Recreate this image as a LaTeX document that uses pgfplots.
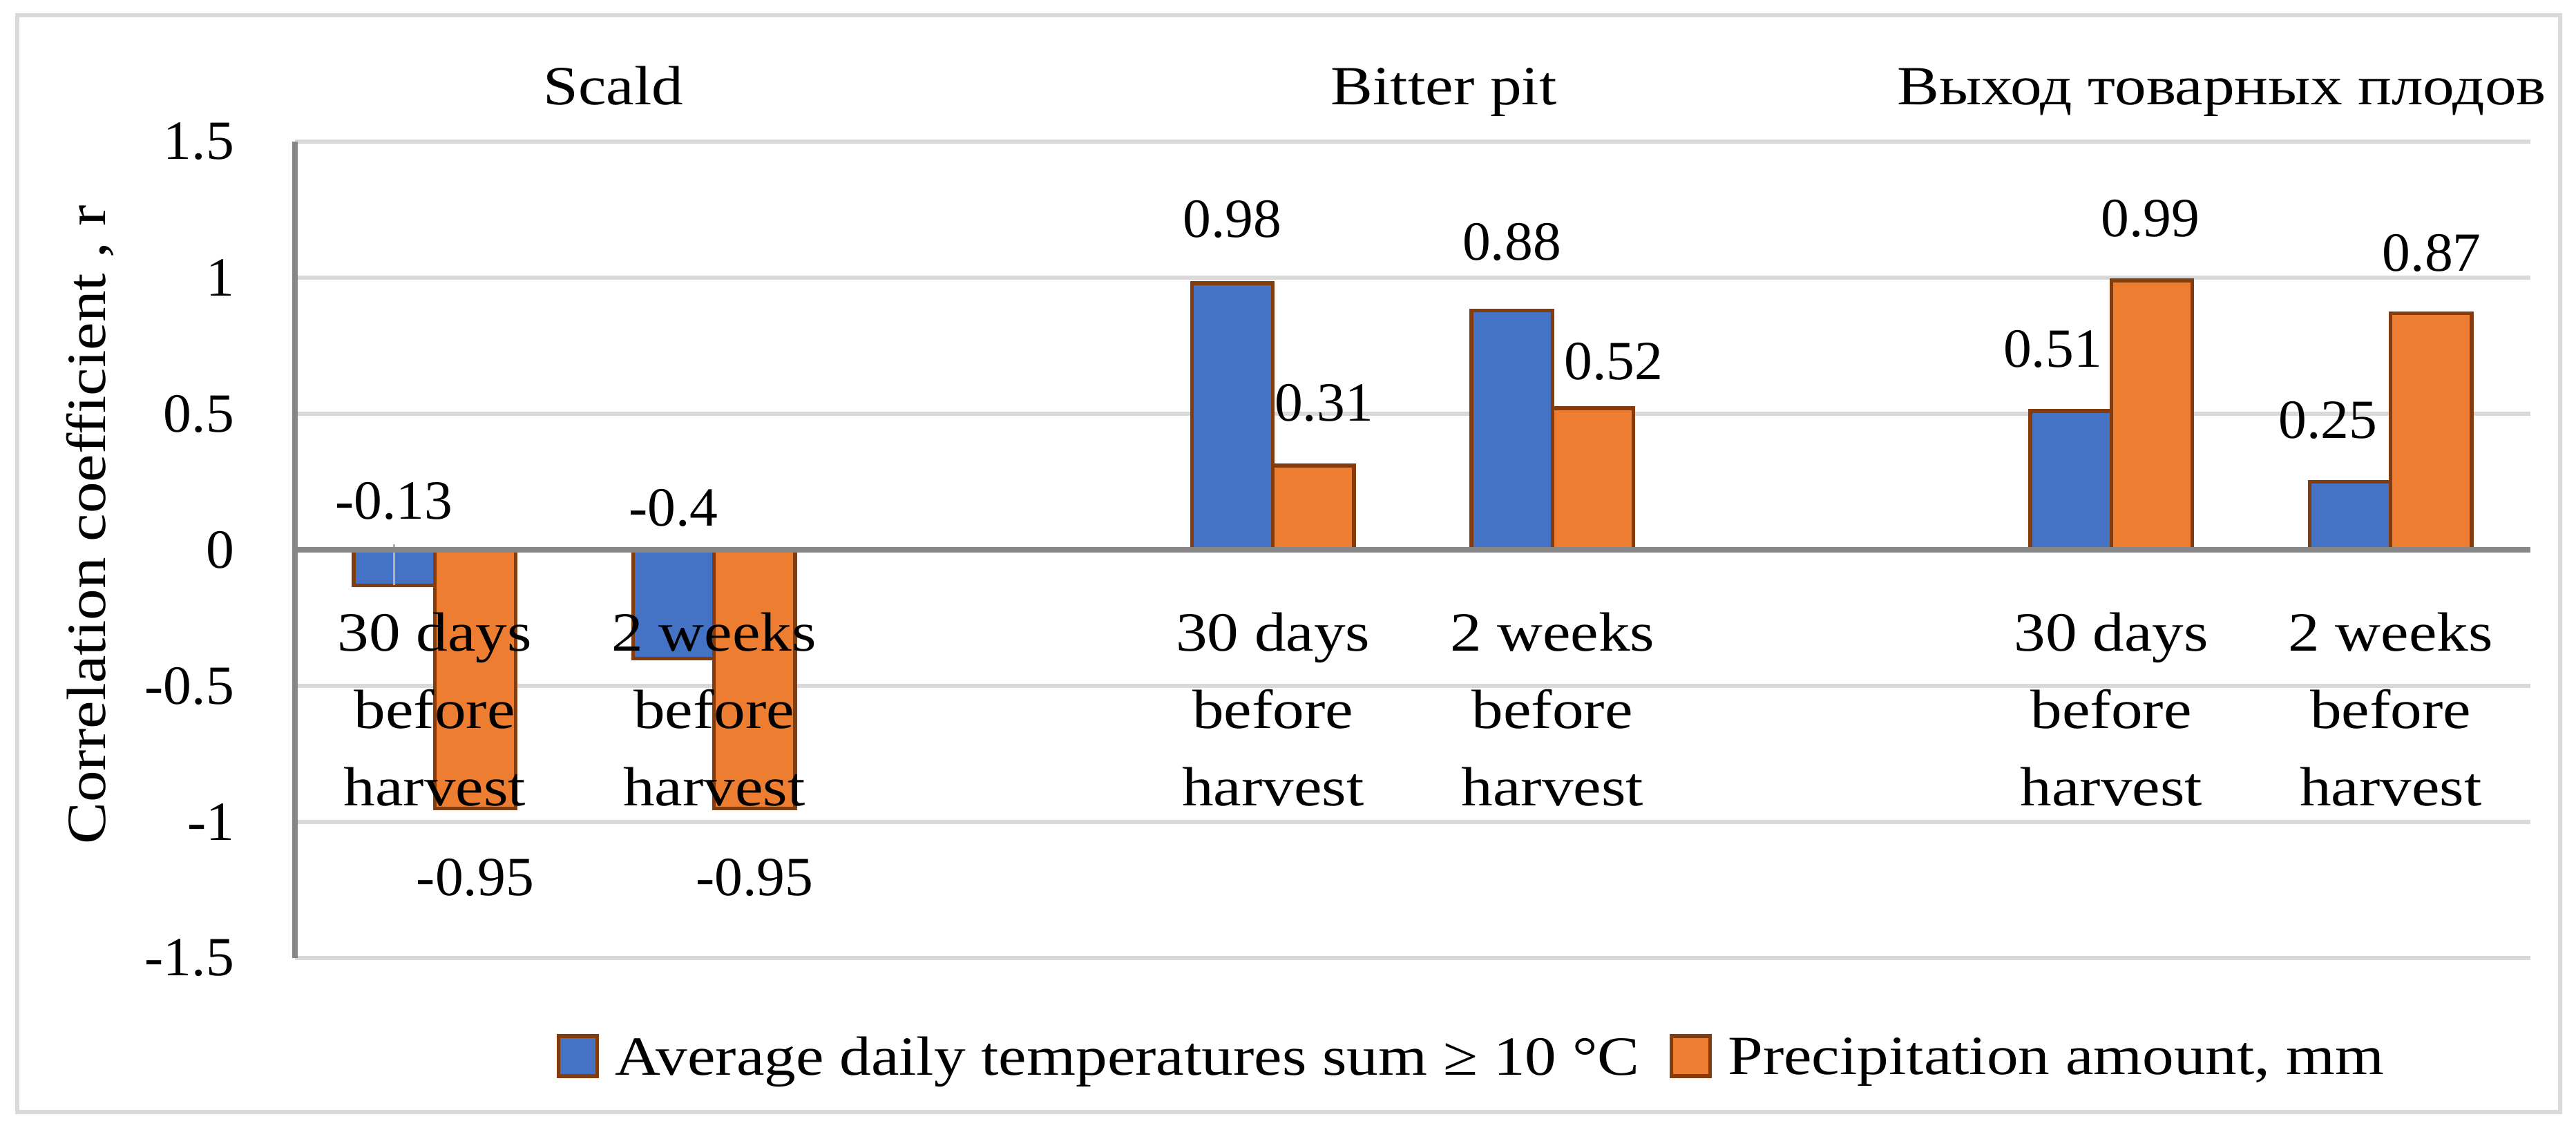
\documentclass[border=0pt]{standalone}
\usepackage{fontspec}
\setmainfont{Liberation Serif}[FakeStretch=1.02]
\newfontfamily\wide{Liberation Serif}[FakeStretch=1.14]
\usepackage{pgfplots}
\pgfplotsset{compat=1.18}
\usepackage{pgfplotstable}

\definecolor{tempblue}{HTML}{4472C4}
\definecolor{preorange}{HTML}{ED7D31}
\definecolor{baredge}{HTML}{843C0C}
\definecolor{gridgray}{HTML}{D9D9D9}
\definecolor{axisgray}{HTML}{878787}

% slots 2 and 5 are the empty gaps between the three groups
% dx, dy: label offset from the slot centre / bar end, in pt
\pgfplotstableread{
x y     lab   dx     dy
0 -0.13 -0.13 -8.8   18.3
1 -0.40 -0.4  -8.8   32.7
3 0.98  0.98  -8.8   13.8
4 0.88  0.88  -8.8   14.85
6 0.51  0.51  -12.7  13.5
7 0.25  0.25  -13.6  13.4
}\temps

\pgfplotstableread{
x y     lab   dx     dy
0 -0.95 -0.95 8.8    -15
1 -0.95 -0.95 8.8    -15
3 0.31  0.31  11.05  13.5
4 0.52  0.52  13.3   10.2
6 0.99  0.99  8.5    13.35
7 0.87  0.87  8.95   13.05
}\precip

\pgfplotsset{
  chartframe/.style={
    at={(64.05pt,37.35pt)}, anchor=south west,
    scale only axis, width=485.4pt, height=177.3pt,
    xmin=-0.5, xmax=7.5, ymin=-1.5, ymax=1.5,
    ytick={-1.5,-1,-0.5,0,0.5,1,1.5},
    major tick length=0pt, tick style={draw=none}},
  swatch/.style={legend image code/.code={\draw[##1,/tikz/.cd] (0pt,-3.5pt) rectangle (8.4pt,5.2pt);}},
  barlabels/.style={
    point meta=explicit symbolic, nodes near coords,
    visualization depends on={\thisrow{dx}\as\labdx},
    visualization depends on={\thisrow{dy}\as\labdy},
    nodes near coords style={anchor=center, inner sep=0pt, draw=none, fill=none, text=black,
      xshift=\labdx pt, yshift=\labdy pt}},
}

\begin{document}
\fontsize{12}{16.8}\selectfont
\begin{tikzpicture}
\useasboundingbox (0,0) rectangle (559.35pt,245.4pt);
\draw[gridgray, line width=1pt] (3.75pt,3.9pt) rectangle (555.9pt,242.1pt);

% grid, bars, data labels and legend
\begin{axis}[
  chartframe,
  axis line style={draw=none},
  xtick=\empty, yticklabels={},
  ymajorgrids, major grid style={draw=gridgray, line width=0.9pt},
  legend columns=2,
  legend style={at={(0.1171,-0.1235)}, anchor=west, draw=none, fill=none, font=\wide,
    inner sep=0pt, outer sep=0pt, nodes={inner sep=0pt},
    /tikz/every odd column/.append style={column sep=3.5pt},
    /tikz/every even column/.append style={column sep=6.5pt}},
  clip=false,
]

\addplot[ybar, bar width=0.29, bar shift=-0.145, fill=tempblue, draw=baredge,
  line width=0.8pt, swatch, barlabels]
  table[x=x, y=y, meta=lab]{\temps};
\addlegendentry{Average daily temperatures sum ≥ 10 °C}

\addplot[ybar, bar width=0.29, bar shift=0.145, fill=preorange, draw=baredge,
  line width=0.8pt, swatch, barlabels]
  table[x=x, y=y, meta=lab]{\precip};
\addlegendentry{Precipitation amount, mm}

% leader line of the -0.13 label
\draw[black!30, line width=0.5pt] (axis cs:-0.145,0.02) -- (axis cs:-0.145,-0.13);
\end{axis}

% axis lines and tick labels, drawn over the bars
\begin{axis}[
  chartframe,
  axis x line=middle, axis y line=left,
  axis line style={-, draw=axisgray, line width=1.2pt},
  hide obscured x ticks=false, hide obscured y ticks=false,
  xtick={0,1,3,4,6,7},
  xticklabels={{30 days\\before\\harvest},{2 weeks\\before\\harvest},
               {30 days\\before\\harvest},{2 weeks\\before\\harvest},
               {30 days\\before\\harvest},{2 weeks\\before\\harvest}},
  xticklabel style={font=\wide, align=center, anchor=north, inner sep=0pt, yshift=-13.4pt},
  yticklabels={-1.5,-1,-0.5,0,0.5,1,1.5},
  yticklabel style={anchor=east, inner sep=0pt, xshift=-13pt},
]
\end{axis}

\node[anchor=base, font=\wide] at (133.2pt,222.6pt) {Scald};
\node[anchor=base, font=\wide] at (313.5pt,222.6pt) {Bitter pit};
\node[anchor=base, font=\wide] at (482.4pt,222.6pt) {Выход товарных плодов};
\node[rotate=90, anchor=base, font=\wide] at (22.8pt,131.4pt) {Correlation coefficient , r};
\end{tikzpicture}
\end{document}
